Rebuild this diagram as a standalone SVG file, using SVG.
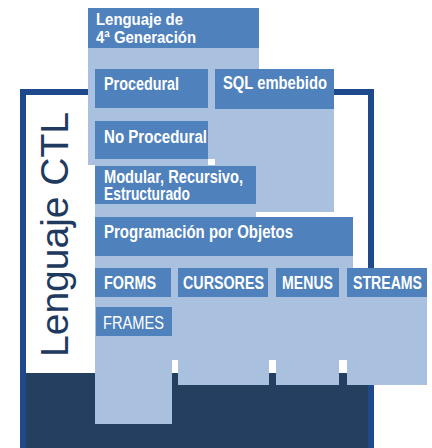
<svg xmlns="http://www.w3.org/2000/svg" width="432" height="448" viewBox="0 0 432 448">
<style>
.bg{fill:#a9c0df}
.box{fill:#4f81bd}
.t{font-family:"Liberation Sans",Arial,sans-serif;font-weight:bold;font-size:18px;fill:#ffffff}
.th{font-family:"Liberation Sans",Arial,sans-serif;font-weight:bold;font-size:16px;fill:#ffffff}
.tr{font-family:"Liberation Sans",Arial,sans-serif;font-size:18px;fill:#ffffff}
.notch{fill:#ffffff}
</style>
<rect x="0" y="0" width="432" height="448" fill="#ffffff"/>
<g id="frame">
<rect x="20" y="373" width="354" height="80" fill="#253f60"/>
<rect x="23" y="92" width="348" height="370" fill="none" stroke="#1e4a8c" stroke-width="6"/>
</g>
<g id="title">
<text transform="translate(68,357) rotate(-90)" font-family="'Liberation Sans',Arial,sans-serif" font-size="39" fill="#1f3a5f">Lenguaje CTL</text>
</g>
<g id="panel">
<rect class="bg" x="88" y="8" width="120" height="157"/>
<rect class="bg" x="208" y="8" width="51" height="61"/>
<rect class="bg" x="208" y="69" width="7" height="90"/>
<rect class="bg" x="215" y="69" width="119" height="143"/>
<rect class="bg" x="95" y="165" width="161" height="53"/>
<rect class="bg" x="95" y="217" width="258" height="51"/>
<rect class="bg" x="95" y="268" width="332" height="92"/>
<rect class="bg" x="95" y="360" width="77" height="64"/>
<rect class="bg" x="178" y="360" width="91" height="25"/>
<rect class="bg" x="276" y="360" width="63" height="25"/>
<rect class="bg" x="347" y="360" width="80" height="25"/>
<rect class="notch" x="172" y="360" width="6" height="13"/>
<rect class="notch" x="269" y="360" width="7" height="13"/>
<rect class="notch" x="339" y="360" width="8" height="13"/>
</g>
<g id="header">
<rect class="box" x="88" y="8" width="171" height="40"/>
<text class="th" x="96" y="25" textLength="87" lengthAdjust="spacingAndGlyphs">Lenguaje de</text>
<text class="th" x="96" y="43" textLength="100" lengthAdjust="spacingAndGlyphs">4ª Generación</text>
</g>
<g id="procedural">
<rect class="box" x="95" y="69" width="113" height="39"/>
<text class="t" x="104" y="90" textLength="75" lengthAdjust="spacingAndGlyphs">Procedural</text>
</g>
<g id="sql">
<rect class="box" x="215" y="69" width="119" height="40"/>
<text class="t" x="223" y="89" textLength="104" lengthAdjust="spacingAndGlyphs">SQL embebido</text>
</g>
<g id="noprocedural">
<rect class="box" x="95" y="121" width="113" height="38"/>
<text class="t" x="104" y="143" textLength="103" lengthAdjust="spacingAndGlyphs">No Procedural</text>
</g>
<g id="modular">
<rect class="box" x="95" y="166" width="161" height="38"/>
<text class="t" x="104" y="183" textLength="139" lengthAdjust="spacingAndGlyphs">Modular, Recursivo,</text>
<text class="t" x="104" y="200" textLength="86" lengthAdjust="spacingAndGlyphs">Estructurado</text>
</g>
<g id="objetos">
<rect class="box" x="95" y="217" width="258" height="39"/>
<text class="t" x="104" y="238" textLength="189" lengthAdjust="spacingAndGlyphs">Programación por Objetos</text>
</g>
<g id="forms">
<rect class="box" x="95" y="268" width="76" height="29"/>
<text class="t" x="104" y="289" textLength="52" lengthAdjust="spacingAndGlyphs">FORMS</text>
</g>
<g id="cursores">
<rect class="box" x="178" y="268" width="90" height="29"/>
<text class="t" x="183" y="289" textLength="81" lengthAdjust="spacingAndGlyphs">CURSORES</text>
</g>
<g id="menus">
<rect class="box" x="276" y="268" width="63" height="29"/>
<text class="t" x="282" y="289" textLength="51" lengthAdjust="spacingAndGlyphs">MENUS</text>
</g>
<g id="streams">
<rect class="box" x="347" y="268" width="80" height="29"/>
<text class="t" x="353" y="289" textLength="69" lengthAdjust="spacingAndGlyphs">STREAMS</text>
</g>
<g id="frames">
<rect class="box" x="96" y="307" width="76" height="29"/>
<text class="tr" x="103" y="329" textLength="61" lengthAdjust="spacingAndGlyphs">FRAMES</text>
</g>
<g id="connectors"></g>
</svg>
